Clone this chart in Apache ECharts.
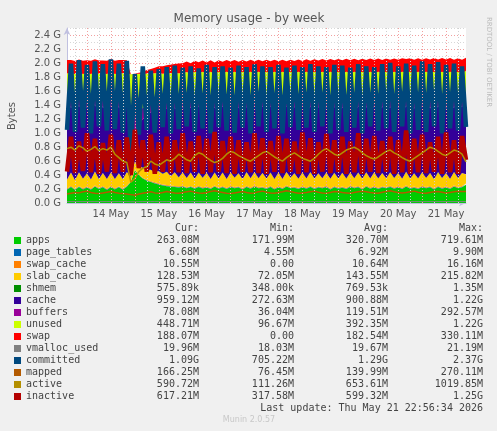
<!DOCTYPE html>
<html><head><meta charset="utf-8">
<script src="https://cdn.jsdelivr.net/npm/echarts@6/dist/echarts.min.js"></script>
<style>html,body{margin:0;padding:0;background:#f0f0f0}#c{width:497px;height:431px}</style>
</head><body><div id="c"></div>
<script>
// hours from 13 May 00:00, 2h step starting at 14:00
const startHour = 14, stepHours = 2;
const apps = [190,230,185,228,195,222,190,235,200,226, 186,230,195,225,190,232,300,470,400,350, 320,300,280,265,250,240,235,228,222,232,
 210,228,205,230,208,222,200,235,205,226, 200,230,210,222,195,228,205,235,210,220, 200,230,195,225,200,235,210,220,200,226,
 205,230,200,222,210,228,195,225,205,220, 200,232,210,226,195,235,205,225,200,222, 210,230,205,225,200,235,205,220,200,230,
 210,225,195,230,205,222,200,235,210,225, 263];
const page_tables = [7,7,7,7,7,7,7,7,7,7, 7,7,7,7,7,7,5,5,6,6, 6,6,7,7,7,7,7,7,7,7, 7,7,7,7,7,7,7,7,7,7, 7,7,7,7,7,7,7,7,7,7,
 7,7,7,7,7,7,7,7,7,7, 7,7,7,7,7,7,7,7,7,7, 7,7,7,7,7,7,7,7,7,7, 7,7,7,7,7,7,7,7,7,7, 7,7,7,7,7,7,7,7,7,7, 7];
const swap_cache = [10,10,10,10,10,10,10,10,10,10, 10,10,10,10,10,10,0,2,4,6, 8,9,10,10,10,10,10,10,10,10, 10,10,10,10,10,10,10,10,10,10,
 11,11,11,11,11,11,11,11,11,11, 11,11,11,11,11,11,11,11,11,11, 11,11,11,11,11,11,11,11,11,11, 11,11,11,11,11,11,11,11,11,11,
 11,11,11,11,11,11,11,11,11,11, 11,11,11,11,11,11,11,11,11,11, 11];
const slab_cache = [130,190,125,195,135,185,130,200,125,188, 140,190,130,185,135,195,80,120,130,140, 140,160,150,175,150,190,130,195,128,188,
 132,192,126,188,135,195,128,186,130,194, 125,190,134,186,128,196,131,189,127,193, 133,187,129,195,126,190,135,188,130,192,
 128,194,132,186,127,191,134,189,129,195, 131,188,126,193,135,187,128,196,132,190, 127,192,133,188,129,195,126,189,134,191,
 130,186,128,194,133,190,127,192,131,188, 129];
const shmem = [1,1,1,1,1,1,1,1,1,1, 1,1,1,1,1,1,0,0,1,1, 1,1,1,1,1,1,1,1,1,1, 1,1,1,1,1,1,1,1,1,1, 1,1,1,1,1,1,1,1,1,1,
 1,1,1,1,1,1,1,1,1,1, 1,1,1,1,1,1,1,1,1,1, 1,1,1,1,1,1,1,1,1,1, 1,1,1,1,1,1,1,1,1,1, 1,1,1,1,1,1,1,1,1,1, 1];
const cache = [960,950,955,965,945,958,950,962,948,955, 952,960,945,958,950,955,280,430,590,700, 780,825,865,880,905,905,915,925,930,935,
 940,935,945,950,938,942,948,936,944,950, 955,945,940,950,948,938,952,946,940,955, 945,950,938,944,952,940,946,955,942,948,
 950,940,948,955,944,938,950,946,952,940, 944,952,940,948,955,942,938,950,946,954, 948,940,952,944,938,950,955,942,946,950,
 952,946,940,955,948,944,950,938,956,960, 959];
const buffers = [110,110,110,110,110,110,110,110,110,110, 110,110,110,110,110,110,40,290,200,160, 140,120,110,110,110,110,110,110,110,110,
 110,110,110,110,110,110,110,110,110,110, 110,110,110,110,110,110,110,110,110,110, 110,110,110,110,110,110,110,110,110,110,
 110,110,110,110,110,110,110,110,110,110, 110,110,110,110,110,110,110,110,110,110, 110,110,110,110,110,110,110,110,110,110,
 110,110,110,110,110,110,110,110,110,110, 78];
const unused = [452,362,457,352,447,367,452,345,452,360, 444,362,452,364,457,350,1142,532,522,482, 462,437,437,417,422,397,452,384,452,377,
 470,368,477,364,472,364,477,365,474,362, 473,367,469,370,482,370,465,362,476,364, 475,365,491,368,475,367,462,369,481,366,
 470,368,473,369,472,375,474,372,466,377, 478,360,477,365,468,368,482,361,475,366, 468,370,463,375,486,362,467,381,473,361,
 461,375,490,353,467,376,476,367,456,359, 449];
const swap = [190,192,188,190,191,189,190,193,190,188, 191,190,189,192,190,188,0,5,15,30, 50,65,80,95,105,115,125,135,140,145,
 150,155,158,160,162,163,165,165,166,167, 168,168,169,170,170,170,171,171,172,172, 172,173,173,172,171,172,173,174,175,176,
 178,180,180,182,183,183,184,185,185,186, 186,187,187,188,188,189,189,190,190,191, 191,192,192,192,193,193,194,194,195,195,
 195,196,196,196,197,197,196,195,194,193, 188];
const vmalloc_used = [20,20,20,20,20,20,20,20,20,20, 20,20,20,20,20,20,18,19,19,20, 20,20,20,20,20,20,20,20,20,20, 20,20,20,20,20,20,20,20,20,20,
 20,20,20,20,20,20,20,20,20,20, 20,20,20,20,20,20,20,20,20,20, 20,20,20,20,20,20,20,20,20,20, 20,20,20,20,20,20,20,20,20,20,
 20,20,20,20,20,20,20,20,20,20, 20,20,20,20,20,20,20,20,20,20, 20];
const committed = [1050,2000,1020,2050,1080,1980,1000,2030,1100,1990, 1040,2060,1060,2000,1010,2040,705,1850,980,1960, 1050,1900,1010,1920,1090,1950,1000,1970,1060,1940,
 1100,1960,1020,1930,1070,1980,1000,1950,1090,1960, 1040,1940,1010,1970,1080,1950,1000,1990,1100,1960, 1020,1950,1070,1980,1000,1940,1090,1970,1050,1950,
 1080,1990,1020,1960,1100,1950,1000,1980,1050,1970, 1020,1940,1080,1990,1000,1960,1100,1950,1040,1990, 1070,2010,1020,1960,1100,2000,1000,1970,1050,2030,
 1020,1990,1100,2020,1000,1980,1070,2000,1040,1960, 1090];
const mapped = [130,140,150,145,160,170,150,140,135,145, 155,165,150,140,135,130,120,110,130,140, 150,160,145,140,150,165,155,145,140,150,
 160,170,155,145,140,150,165,175,160,150, 140,135,145,155,165,150,140,145,160,170, 155,145,140,150,160,175,165,150,140,145,
 150,160,170,155,145,140,150,165,160,150, 145,140,150,160,170,160,150,145,140,155, 165,175,160,150,145,150,160,170,155,145,
 140,150,160,165,155,145,150,160,170,165, 166];
const active = [780,800,760,820,790,740,770,810,750,780, 760,800,700,650,600,580,300,350,450,500, 520,600,560,540,580,620,600,640,700,660,
 620,600,680,720,700,650,610,580,600,640, 700,740,720,680,650,620,600,640,680,720, 740,700,660,630,600,650,690,720,680,640,
 620,600,640,700,750,780,740,700,680,720, 760,780,800,770,720,680,650,630,660,700, 740,760,720,690,650,620,600,640,680,720,
 760,800,780,740,700,680,720,760,740,700, 590];
const inactive = [450,950,430,880,460,1000,440,920,420,860, 450,980,430,900,450,940,400,1050,500,900, 450,980,420,870,450,950,430,900,440,1000,
 430,880,450,960,420,920,440,1020,450,890, 430,950,420,900,450,870,440,1000,430,930, 420,890,450,960,430,920,450,880,420,1010,
 440,930,420,870,450,990,430,900,450,950, 420,880,440,1000,420,920,450,960,430,890, 450,950,420,900,440,1040,420,920,440,980,
 430,870,450,950,420,1010,440,900,420,960, 617];

const dayTicks = [36,60,84,108,132,156,180,204];
const dayLabels = ['14 May','15 May','16 May','17 May','18 May','19 May','20 May','21 May'];
const majorGrid = [24,36,48,60,72,84,96,108,120,132,144,156,168,180,192,204];
const minorGrid = [18,30,42,54,66,78,90,102,114,126,138,150,162,174,186,198,210];

const legendRows = [
 ['apps','#00CC00','263.08M','171.99M','320.70M','719.61M'],
 ['page_tables','#0066B3','6.68M','4.55M','6.92M','9.90M'],
 ['swap_cache','#FF8000','10.55M','0.00','10.64M','16.16M'],
 ['slab_cache','#FFCC00','128.53M','72.05M','143.55M','215.82M'],
 ['shmem','#008F00','575.89k','348.00k','769.53k','1.35M'],
 ['cache','#330099','959.12M','272.63M','900.88M','1.22G'],
 ['buffers','#990099','78.08M','36.04M','119.51M','292.57M'],
 ['unused','#CCFF00','448.71M','96.67M','392.35M','1.22G'],
 ['swap','#FF0000','188.07M','0.00','182.54M','330.11M'],
 ['vmalloc_used','#808080','19.96M','18.03M','19.67M','21.19M'],
 ['committed','#00487D','1.09G','705.22M','1.29G','2.37G'],
 ['mapped','#B35A00','166.25M','76.45M','139.99M','270.11M'],
 ['active','#B38F00','590.72M','111.26M','653.61M','1019.85M'],
 ['inactive','#B30000','617.21M','317.58M','599.32M','1.25G']
];
const colorOf = {}; legendRows.forEach(r => colorOf[r[0]] = r[1]);

const hours = apps.map((_, i) => String(startHour + i * stepHours));
const stacked = [['apps',apps],['page_tables',page_tables],['swap_cache',swap_cache],['slab_cache',slab_cache],['shmem',shmem],
 ['cache',cache],['buffers',buffers],['unused',unused],['swap',swap]];
const lines = [['vmalloc_used',vmalloc_used,1],['committed',committed,4.5],['inactive',inactive,4.5],['active',active,1.5],['mapped',mapped,1.5]];

const series = [];
stacked.forEach(([n, d]) => series.push({name:n,type:'line',stack:'mem',data:d,showSymbol:false,
  lineStyle:{width:0},areaStyle:{color:colorOf[n],opacity:1},itemStyle:{color:colorOf[n]},silent:true,animation:false}));
lines.forEach(([n, d, w]) => series.push({name:n,type:'line',data:d,showSymbol:false,
  lineStyle:{width:w,color:colorOf[n]},itemStyle:{color:colorOf[n]},silent:true,animation:false}));
series.push({type:'line',data:[],silent:true,animation:false,z:1,
  markLine:{symbol:'none',silent:true,animation:false,label:{show:false},
   data:[...majorGrid.map(h=>({xAxis:String(h),lineStyle:{color:'#f2a0a0',type:[1,2],width:1}})),
         ...minorGrid.map(h=>({xAxis:String(h),lineStyle:{color:'#d0d0d0',type:[1,2],width:1}}))]}});

const graphic = [];
const mono = '10px "DejaVu Sans Mono"';
const hdrY = 228, rowY0 = 240, rowH = 12;
const colX = [199, 294, 388, 483];
['Cur:','Min:','Avg:','Max:'].forEach((t,i)=>graphic.push({type:'text',x:colX[i],y:hdrY,style:{text:t,font:mono,fill:'#444',align:'right',verticalAlign:'middle'}}));
legendRows.forEach((r, k) => {
  const y = rowY0 + k * rowH;
  graphic.push({type:'rect',shape:{x:14,y:y-3,width:7,height:7},style:{fill:r[1]}});
  graphic.push({type:'text',x:26,y:y,style:{text:r[0],font:mono,fill:'#444',verticalAlign:'middle'}});
  for (let i = 0; i < 4; i++) graphic.push({type:'text',x:colX[i],y:y,style:{text:r[2+i],font:mono,fill:'#444',align:'right',verticalAlign:'middle'}});
});
graphic.push({type:'text',x:483,y:408,style:{text:'Last update: Thu May 21 22:56:34 2026',font:mono,fill:'#444',align:'right',verticalAlign:'middle'}});
graphic.push({type:'text',x:249,y:420,style:{text:'Munin 2.0.57',font:'8px "DejaVu Sans"',fill:'#c8c8c8',align:'center',verticalAlign:'middle'}});
graphic.push({type:'text',x:249,y:19,style:{text:'Memory usage - by week',font:'12px "DejaVu Sans"',fill:'#555',align:'center',verticalAlign:'middle'}});
graphic.push({type:'text',x:12,y:116,rotation:Math.PI/2,style:{text:'Bytes',font:'10px "DejaVu Sans"',fill:'#555',align:'center',verticalAlign:'middle'}});
graphic.push({type:'text',x:489,y:62,rotation:-Math.PI/2,style:{text:'RRDTOOL / TOBI OETIKER',font:'7px "DejaVu Sans"',fill:'#bbb',align:'center',verticalAlign:'middle'}});

const chart = echarts.init(document.getElementById('c'), null, {renderer:'canvas'});
chart.setOption({
  backgroundColor:'#f0f0f0', animation:false,
  grid:{left:67,right:31,top:28,bottom:228,show:true,backgroundColor:'#ffffff',borderWidth:0},
  xAxis:{type:'category',data:hours,boundaryGap:false,
    axisLine:{show:true,lineStyle:{color:'#c0c0e0'},symbol:['none','arrow'],symbolSize:[5,7]},
    axisTick:{show:false},
    splitLine:{show:false},
    axisLabel:{interval:(i,v)=>dayTicks.includes(Number(v)),formatter:v=>dayLabels[dayTicks.indexOf(Number(v))]||'',color:'#555',fontSize:10,fontFamily:'DejaVu Sans',margin:6}},
  yAxis:{type:'value',min:0,max:2510,interval:200,
    axisLine:{show:true,lineStyle:{color:'#c0c0e0'},symbol:['none','arrow'],symbolSize:[5,7]},
    axisTick:{show:false},
    splitLine:{show:true,lineStyle:{color:'#f2a0a0',type:[1,2]}},
    minorTick:{show:false,splitNumber:2},
    minorSplitLine:{show:true,lineStyle:{color:'#d8d8d8',type:[1,2]}},
    axisLabel:{formatter:v=>(v/1000).toFixed(1)+' G',color:'#555',fontSize:10,fontFamily:'DejaVu Sans',margin:6,showMaxLabel:false}},
  series, graphic
});
</script></body></html>
